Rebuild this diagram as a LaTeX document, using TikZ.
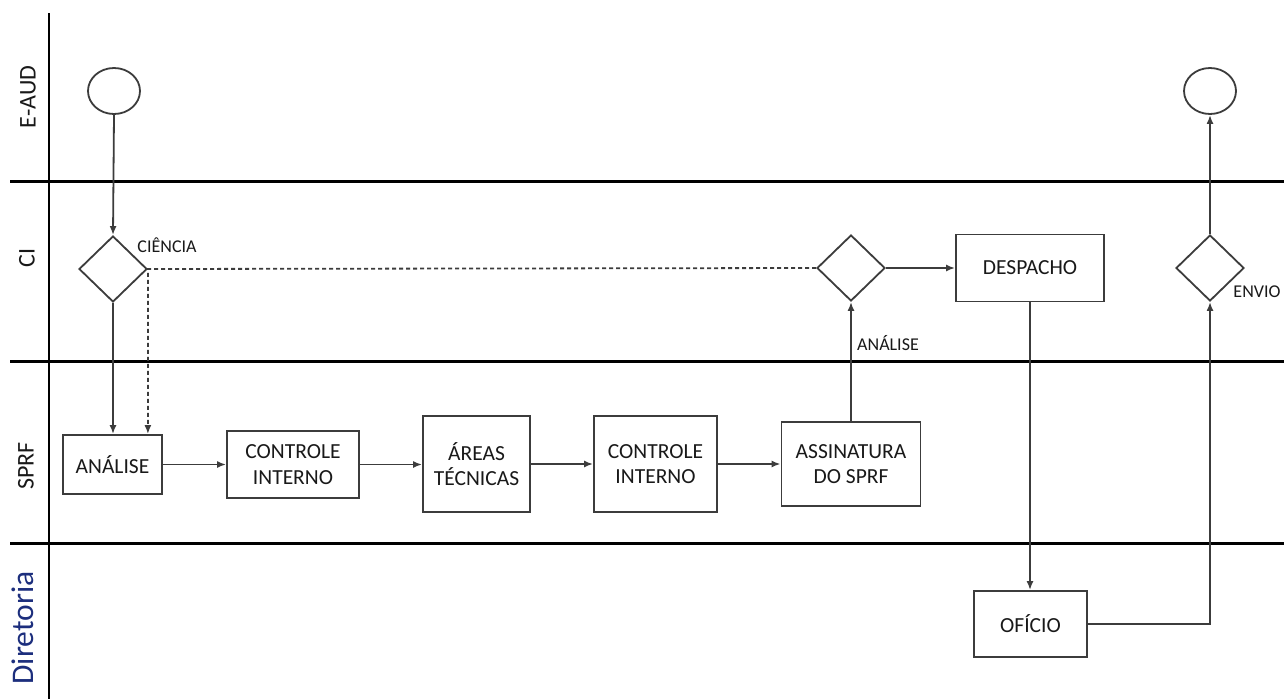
\documentclass[tikz,border=0pt]{standalone}
\usepackage{fontspec}
\setmainfont{Carlito}
\usetikzlibrary{arrows.meta,shapes.geometric}
\definecolor{ink}{RGB}{60,60,60}
\definecolor{txt}{RGB}{25,25,25}
\definecolor{laneblue}{RGB}{28,46,125}
\begin{document}
\begin{tikzpicture}[x=1pt,y=-1pt,
  lane/.style={draw=black,line width=2.2pt},
  lanelabel/.style={rotate=90,text=txt,font=\fontsize{24}{28}\selectfont},
  box/.style={draw=ink,line width=1.8pt,rectangle,inner sep=0pt,align=center,
    text=txt,font=\fontsize{21.5}{25.5}\selectfont},
  dec/.style={draw=ink,line width=1.8pt,diamond,inner sep=0pt,
    minimum width=68pt,minimum height=66pt},
  term/.style={draw=ink,line width=1.8pt,ellipse,inner sep=0pt,
    minimum width=52pt,minimum height=46pt},
  flow/.style={draw=ink,line width=1.8pt,-{Latex[length=9pt,width=7pt]}},
  tag/.style={text=txt,font=\fontsize{18}{21}\selectfont,inner sep=0pt}]

\useasboundingbox[fill=white] (0,0) rectangle (1284,699);

% swimlane grid
\draw[lane] (49,13) -- (49,699);
\draw[lane] (10,181.5) -- (1284,181.5);
\draw[lane] (10,361.5) -- (1284,361.5);
\draw[lane] (10,543.5) -- (1284,543.5);

% lane titles
\node[lanelabel] (lE) at (28,97) {E-AUD};
\node[lanelabel] (lC) at (27,258) {CI};
\node[lanelabel] (lS) at (26,466) {SPRF};
\node[rotate=90,text=laneblue,font=\fontsize{31.5}{36}\selectfont] (lD) at (23,628) {Diretoria};

% flow elements
\node[term] (s) at (114,91) {};
\node[term] (e) at (1210,91) {};
\node[dec] (d1) at (113,269) {};
\node[dec] (d2) at (851,268) {};
\node[dec] (d3) at (1210,268) {};

\node[box,minimum width=99pt,minimum height=59pt] (an) at (112.5,464.5) {ANÁLISE};
\node[box,minimum width=132pt,minimum height=67pt] (ci1) at (293,464.5) {CONTROLE\\INTERNO};
\node[box,minimum width=107pt,minimum height=96pt] (ar) at (476.5,464) {ÁREAS\\TÉCNICAS};
\node[box,minimum width=123pt,minimum height=96pt] (ci2) at (655.5,464) {CONTROLE\\INTERNO};
\node[box,minimum width=139pt,minimum height=84pt] (as) at (851,464) {ASSINATURA\\DO SPRF};
\node[box,minimum width=148pt,minimum height=67pt] (de) at (1030,268) {DESPACHO};
\node[box,minimum width=113pt,minimum height=66pt] (of) at (1030.5,624) {OFÍCIO};

% labels
\node[tag] (tC) at (167,245) {CIÊNCIA};
\node[tag] (tA) at (888,343) {ANÁLISE};
\node[tag] (tE) at (1257,292) {ENVIO};

% connectors
\draw[flow] (s.south) -- (d1.north);
\draw[flow] (d1.south) -- (d1.south |- an.north);
\draw[flow,dash pattern=on 4pt off 3pt] (d2.west) -- (d1.east) -- (d1.east |- an.north);
\draw[flow] (an.east) -- (an.east -| ci1.west);
\draw[flow] (ci1.east) -- (ci1.east -| ar.west);
\draw[flow] (ar.east) -- (ci2.west);
\draw[flow] (ci2.east) -- (as.west);
\draw[flow] (as.north) -- (d2.south);
\draw[flow] (d2.east) -- (de.west);
\draw[flow] (de.south) -- (de.south |- of.north);
\draw[flow] (of.east) -| (d3.south);
\draw[flow] (d3.north) -- (e.south);

\end{tikzpicture}
\end{document}
